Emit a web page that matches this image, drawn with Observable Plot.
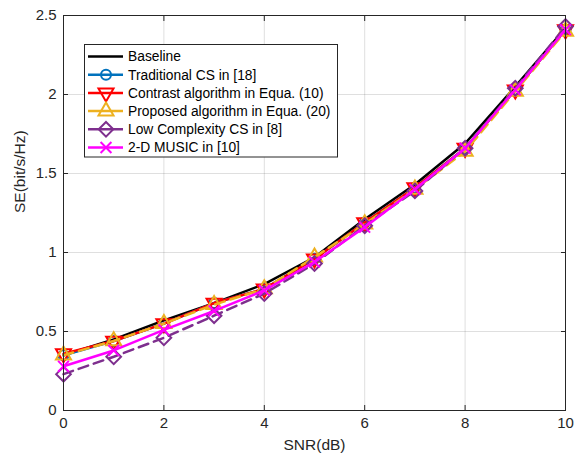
<!DOCTYPE html>
<html>
<head>
<meta charset="utf-8">
<script src="https://cdn.jsdelivr.net/npm/d3@7"></script>
<script src="https://cdn.jsdelivr.net/npm/@observablehq/plot@0.6"></script>
<style>
  html, body { margin: 0; padding: 0; background: #fff; }
  #wrap { position: relative; width: 582px; height: 462px; }
  #legend { position: absolute; left: 84px; top: 44px; }
</style>
</head>
<body>
<div id="wrap"></div>
<script>
// ---- data ----
const snr = [0, 1, 2, 3, 4, 5, 6, 7, 8, 9, 10];
const baseline    = [0.35, 0.45, 0.57, 0.68, 0.80, 0.97, 1.21, 1.43, 1.69, 2.05, 2.42];
const traditional = [0.35, 0.44, 0.55, 0.68, 0.77, 0.96, 1.19, 1.41, 1.66, 2.03, 2.41];
const contrast    = [0.36, 0.44, 0.55, 0.68, 0.77, 0.96, 1.19, 1.41, 1.66, 2.03, 2.41];
const proposed    = [0.35, 0.44, 0.55, 0.67, 0.77, 0.97, 1.18, 1.40, 1.64, 2.02, 2.40];
const lowComplex  = [0.23, 0.34, 0.46, 0.60, 0.74, 0.93, 1.17, 1.39, 1.66, 2.04, 2.43];
const music2d     = [0.28, 0.38, 0.51, 0.63, 0.76, 0.94, 1.16, 1.40, 1.66, 2.03, 2.41];
const seriesNames = [
  "Baseline",
  "Traditional CS in [18]",
  "Contrast algorithm in Equa. (10)",
  "Proposed algorithm in Equa. (20)",
  "Low Complexity CS in [8]",
  "2-D MUSIC in [10]"
];
const xTicks = [0, 2, 4, 6, 8, 10];
const yTicks = [0, 0.5, 1, 1.5, 2, 2.5];

// ---- styles ----
const triDown = {
  draw(ctx, size) {
    const h = Math.sqrt(size / (3 * Math.sqrt(3)));
    ctx.moveTo(0, 2 * h);
    ctx.lineTo(-Math.sqrt(3) * h, -h);
    ctx.lineTo(Math.sqrt(3) * h, -h);
    ctx.closePath();
  }
};
const styles = [
  {values: baseline,    color: "#000000", dash: null,   symbol: null,        r: 0},
  {values: traditional, color: "#0072BD", dash: null,   symbol: "circle",    r: 5},
  {values: contrast,    color: "#FF0000", dash: null,   symbol: triDown,     r: 5.6},
  {values: proposed,    color: "#EDB120", dash: "10,6", symbol: "triangle",  r: 5.6},
  {values: lowComplex,  color: "#7E2F8E", dash: "10,6", symbol: "diamond2",  r: 6.6},
  {values: music2d,     color: "#FF00FF", dash: null,   symbol: "times",     r: 5}
];
const series = styles.map((s, i) => ({...s, name: seriesNames[i],
  data: snr.map((x, j) => ({x, y: s.values[j]}))}));

const ink = "#262626";
const font = "'Liberation Sans', Arial, sans-serif";
const marks = [
  Plot.gridX(xTicks, {stroke: ink, strokeOpacity: 0.15}),
  Plot.gridY(yTicks, {stroke: ink, strokeOpacity: 0.15}),
];
for (const s of series) {
  marks.push(Plot.line(s.data, {x: "x", y: "y", stroke: s.color, strokeWidth: 2.5,
    strokeDasharray: s.dash ?? undefined}));
  if (s.symbol) {
    marks.push(Plot.dot(s.data, {x: "x", y: "y", symbol: s.symbol, r: s.r,
      stroke: s.color, strokeWidth: 2, fill: "none"}));
  }
}
const fmt = d => String(d);
marks.push(
  Plot.frame({stroke: ink, strokeWidth: 1}),
  Plot.axisX(xTicks, {anchor: "bottom", tickSize: -5, tickPadding: 12, stroke: ink, fill: ink,
    label: null, tickFormat: fmt, fontSize: 15}),
  Plot.axisX(xTicks, {anchor: "top", tickSize: -5, tickFormat: () => "", stroke: ink, label: null}),
  Plot.axisY(yTicks, {anchor: "left", tickSize: -5, tickPadding: 12, stroke: ink, fill: ink,
    label: null, tickFormat: fmt, fontSize: 15}),
  Plot.axisY(yTicks, {anchor: "right", tickSize: -5, tickFormat: () => "", stroke: ink, label: null}),
  Plot.text(["SNR(dB)"], {frameAnchor: "bottom", dy: 39, fill: ink, fontSize: 15.5}),
  Plot.text(["SE(bit/s/Hz)"], {frameAnchor: "left", dx: -43, rotate: -90, fill: ink, fontSize: 15.5})
);

const chart = Plot.plot({
  width: 582,
  height: 462,
  marginLeft: 63,
  marginRight: 17,
  marginTop: 15,
  marginBottom: 52,
  x: {domain: [0, 10]},
  y: {domain: [0, 2.5]},
  style: {fontFamily: font, fontSize: "15px", color: ink, background: "#fff"},
  marks
});
const wrap = document.getElementById("wrap");
wrap.appendChild(chart);

// ---- legend ----
const lg = d3.select(wrap).append("svg").attr("id", "legend")
  .attr("width", 260).attr("height", 114);
const box = lg.append("rect").attr("x", 0.5).attr("y", 0.5)
  .attr("height", 112.5).attr("fill", "#fff").attr("stroke", ink).attr("stroke-width", 1);
let maxW = 0;
series.forEach((s, i) => {
  const cy = 12.5 + i * 18.2;
  const g = lg.append("g");
  g.append("line").attr("x1", 4).attr("x2", 39).attr("y1", cy).attr("y2", cy)
    .attr("stroke", s.color).attr("stroke-width", 2.5);
  if (s.symbol) {
    const type = typeof s.symbol === "string"
      ? {circle: d3.symbolCircle, triangle: d3.symbolTriangle, diamond2: d3.symbolDiamond2, times: d3.symbolTimes}[s.symbol]
      : s.symbol;
    g.append("path").attr("d", d3.symbol(type, s.r * s.r * Math.PI)())
      .attr("transform", `translate(22,${cy})`)
      .attr("fill", "none").attr("stroke", s.color).attr("stroke-width", 2);
  }
  const t = g.append("text").attr("x", 44).attr("y", cy).attr("dy", "0.35em")
    .attr("fill", "#000").style("font-family", font)
    .style("font-size", "13.8px").text(s.name);
  maxW = Math.max(maxW, t.node().getComputedTextLength());
});
const bw = Math.ceil(44 + maxW + 6);
box.attr("width", bw);
lg.attr("width", bw + 2);
</script>
</body>
</html>
